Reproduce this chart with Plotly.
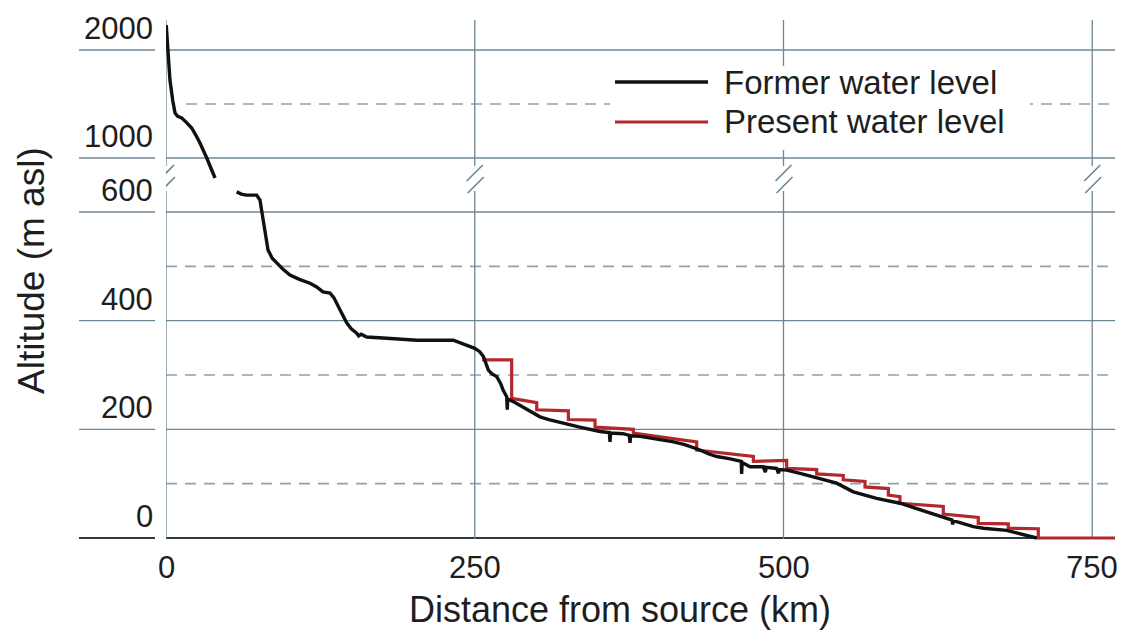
import plotly.graph_objects as go

# ---------------- data ----------------
former_top_km = [0.2, 1.5, 3.2, 5.5, 7.3, 9.5, 12.7, 16.5, 20.8, 24, 27.5, 33, 39.7]
former_top_alt = [2230, 1960, 1722, 1530, 1417, 1385, 1370, 1330, 1278, 1215, 1139, 1000, 815]

former_km = [57.2, 61, 65, 73.4, 76.1, 78.5, 80.2, 82.6, 86, 89.6,
             95, 100.4, 108, 116.6, 122, 127.1, 132.8, 136, 138.2, 142,
             146.3, 150, 154.4, 156, 158, 162.5, 175.7, 203, 232.6, 240,
             250, 254, 257, 261, 264, 267.8, 271, 273, 275.9, 276.3,
             276.7, 281.2, 290, 302.8, 310, 321.7, 335, 351.4, 359, 359.5,
             360, 370, 375.2, 375.7, 376.2, 384, 392, 405.4, 411, 420,
             432.4, 439, 446, 456, 465.8, 466.1, 466.5, 472.9, 483.6, 485.3,
             486, 494.5, 496, 496.5, 502.6, 513.4, 527, 543, 556.5, 575.4,
             594.3, 615.9, 626.7, 632.1, 636.5, 637, 637.5, 653.7, 662, 680.7,
             699.6, 705]
former_alt = [637, 633, 631, 631, 622, 590, 567, 530, 515, 506,
              494, 484, 476, 469, 462, 453, 451, 442, 433, 415,
              396, 385, 377, 372, 375, 370, 368, 364, 364, 358,
              349, 343, 334, 309, 302, 297, 284, 272, 260, 236,
              256, 251, 240, 223, 218, 211, 204, 196, 194, 177,
              193, 192, 189, 175, 188, 187, 184, 180, 177, 172,
              162, 155, 150, 146, 141, 118, 139, 131, 131, 121,
              130, 128, 119, 126, 125, 119, 110, 101, 85, 73,
              64, 48, 41, 36, 33, 25, 32, 21, 18, 14,
              2, 0]

present_km = [256, 279.9, 279.9, 300.2, 300.2, 325.8, 325.8, 347.4, 347.4, 378.4,
              378.4, 429.7, 429.7, 475.6, 475.6, 502.6, 502.6, 526.9, 526.9, 548.4,
              548.4, 566, 566, 584.9, 584.9, 594.3, 594.3, 629.4, 629.4, 657.7,
              657.7, 682, 682, 706.3, 706.3, 768.4]
present_alt = [328, 328, 257, 249, 236, 234, 218, 217, 204, 200,
               193, 177, 162, 150, 141, 143, 128, 126, 118, 115,
               107, 104, 94, 91, 79, 76, 64, 58, 44, 38,
               27, 26, 18, 17, 0, 0]

x_ticks = [0, 250, 500, 750]
y_low_labels = [0, 200, 400, 600]
y_low_dashed = [100, 300, 500]
y_high_labels = [1000, 2000]
y_high_dashed = [1500]

# ---------------- layout geometry ----------------
W, H = 1127, 636
ML, MR, MT, MB = 166, 12, 20, 94
PW = W - ML - MR
PH = H - MT - MB
KM_PX = 1.235                      # pixels per km
XMAX = PW / KM_PX
LOW_PX = 0.54333                   # pixels per metre (lower panel)
HIGH_PX = 0.108                    # pixels per metre (upper panel)


def fy(py):
    return (H - MB - py) / PH


def fx(px):
    return (px - ML) / PW


low_top_px, high_bot_px = 188, 180
low_range = [-(H - MB - 538) / LOW_PX, (538 - low_top_px) / LOW_PX]
high_range = [2000 - (high_bot_px - 50) / HIGH_PX, 2000 + (50 - MT) / HIGH_PX]

GRID = "#6c8694"
DASH = "#90a1ac"
AXIS = "#2d3a40"
TXT = "#1e1e1e"
RED = "#b3272d"
BLK = "#111111"
FONT = "Liberation Sans, Arial, sans-serif"

fig = go.Figure()
fig.add_trace(go.Scatter(x=present_km, y=present_alt, mode="lines", name="Present water level",
                         line=dict(color=RED, width=3.2), xaxis="x", yaxis="y", showlegend=False))
fig.add_trace(go.Scatter(x=former_km, y=former_alt, mode="lines", name="Former water level",
                         line=dict(color=BLK, width=3.4), xaxis="x", yaxis="y", showlegend=False))
fig.add_trace(go.Scatter(x=former_top_km, y=former_top_alt, mode="lines", name="Former water level",
                         line=dict(color=BLK, width=3.4), xaxis="x", yaxis="y2", showlegend=False))

shapes = []
# horizontal grid lines, lower panel
for v in y_low_labels:
    col, wd = (AXIS, 2) if v == 0 else (GRID, 1.3)
    shapes.append(dict(type="line", xref="paper", yref="y", x0=0, x1=1, y0=v, y1=v,
                       line=dict(color=col, width=wd), layer="below"))
    shapes.append(dict(type="line", xref="paper", yref="y", x0=fx(79), x1=fx(155), y0=v, y1=v,
                       line=dict(color=col, width=wd), layer="below"))
for v in y_low_dashed:
    shapes.append(dict(type="line", xref="paper", yref="y", x0=0, x1=1, y0=v, y1=v,
                       line=dict(color=DASH, width=1.6, dash="11px,8px"), layer="below"))
# horizontal grid lines, upper panel
for v in y_high_labels:
    shapes.append(dict(type="line", xref="paper", yref="y2", x0=0, x1=1, y0=v, y1=v,
                       line=dict(color=GRID, width=1.3), layer="below"))
    shapes.append(dict(type="line", xref="paper", yref="y2", x0=fx(79), x1=fx(155), y0=v, y1=v,
                       line=dict(color=GRID, width=1.3), layer="below"))
for v in y_high_dashed:
    shapes.append(dict(type="line", xref="paper", yref="y2", x0=fx(186), x1=1, y0=v, y1=v,
                       line=dict(color=DASH, width=1.6, dash="11px,8px"), layer="below"))
# vertical lines with break marks
for xv in x_ticks:
    shapes.append(dict(type="line", xref="x", yref="paper", x0=xv, x1=xv, y0=fy(166), y1=1,
                       line=dict(color=GRID, width=1.3), layer="below"))
    shapes.append(dict(type="line", xref="x", yref="paper", x0=xv, x1=xv, y0=fy(539), y1=fy(191),
                       line=dict(color=GRID, width=1.3), layer="below"))
    shapes.append(dict(type="line", xref="x", yref="paper", x0=xv - 8 / KM_PX, x1=xv + 8 / KM_PX,
                       y0=fy(181), y1=fy(165), line=dict(color=GRID, width=1.6), layer="below"))
    shapes.append(dict(type="line", xref="x", yref="paper", x0=xv - 7 / KM_PX, x1=xv + 9 / KM_PX,
                       y0=fy(193), y1=fy(177), line=dict(color=GRID, width=1.6), layer="below"))
# legend box (manual legend)
shapes.append(dict(type="rect", xref="paper", yref="paper", x0=fx(610), x1=fx(1030),
                   y0=fy(150), y1=fy(66), fillcolor="white", line=dict(width=0), layer="below"))
shapes.append(dict(type="line", xref="paper", yref="paper", x0=fx(615), x1=fx(708),
                   y0=fy(82), y1=fy(82), line=dict(color=BLK, width=3.4)))
shapes.append(dict(type="line", xref="paper", yref="paper", x0=fx(615), x1=fx(708),
                   y0=fy(122), y1=fy(122), line=dict(color=RED, width=3.2)))

annotations = []
for v in y_low_labels:
    annotations.append(dict(text=str(v), xref="paper", yref="y", x=fx(155), y=v,
                            xanchor="right", yanchor="bottom", yshift=2, showarrow=False,
                            font=dict(size=31, color=TXT, family=FONT)))
for v in y_high_labels:
    annotations.append(dict(text=str(v), xref="paper", yref="y2", x=fx(155), y=v,
                            xanchor="right", yanchor="bottom", yshift=2, showarrow=False,
                            font=dict(size=31, color=TXT, family=FONT)))
for v in x_ticks:
    annotations.append(dict(text=str(v), xref="x", yref="paper", x=v, y=fy(567),
                            xanchor="center", yanchor="middle", showarrow=False,
                            font=dict(size=31, color=TXT, family=FONT)))
annotations.append(dict(text="Former water level", xref="paper", yref="paper", x=fx(722), y=fy(82),
                        xanchor="left", yanchor="middle", showarrow=False,
                        font=dict(size=33, color=TXT, family=FONT)))
annotations.append(dict(text="Present water level", xref="paper", yref="paper", x=fx(722), y=fy(122),
                        xanchor="left", yanchor="middle", showarrow=False,
                        font=dict(size=33, color=TXT, family=FONT)))
annotations.append(dict(text="Altitude (m asl)", xref="paper", yref="paper", x=fx(31), y=fy(271),
                        xanchor="center", yanchor="middle", textangle=-90, showarrow=False,
                        font=dict(size=37, color=TXT, family=FONT)))
annotations.append(dict(text="Distance from source (km)", xref="paper", yref="paper", x=fx(620), y=fy(609),
                        xanchor="center", yanchor="middle", showarrow=False,
                        font=dict(size=36, color=TXT, family=FONT)))

fig.update_layout(
    width=W, height=H,
    margin=dict(l=ML, r=MR, t=MT, b=MB),
    paper_bgcolor="white", plot_bgcolor="white",
    showlegend=False,
    font=dict(family=FONT, color=TXT),
    xaxis=dict(domain=[0, 1], range=[0, XMAX], anchor="y", showgrid=False, zeroline=False,
               showline=False, showticklabels=False, ticks=""),
    yaxis=dict(domain=[0, fy(low_top_px)], range=low_range, anchor="x", showgrid=False,
               zeroline=False, showline=False, showticklabels=False, ticks=""),
    yaxis2=dict(domain=[fy(high_bot_px), 1], range=high_range, anchor="x", showgrid=False,
                zeroline=False, showline=False, showticklabels=False, ticks=""),
    shapes=shapes,
    annotations=annotations,
)

fig.write_html("out.html", config={"displayModeBar": False},
               post_script="document.body.style.margin='0';document.body.style.overflow='hidden';")
